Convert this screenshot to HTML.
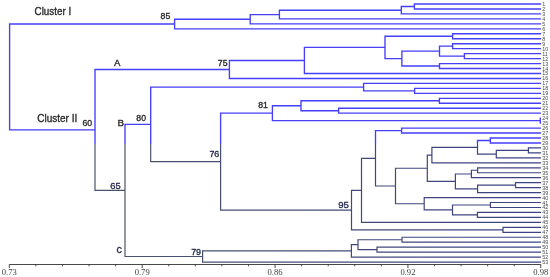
<!DOCTYPE html>
<html><head><meta charset="utf-8"><style>
html,body{margin:0;padding:0;background:#fff;}
body{width:550px;height:277px;overflow:hidden;position:relative;}
svg{position:absolute;left:0;top:0;display:block;}
</style></head><body>
<svg width="550" height="277" viewBox="0 0 550 277">
<defs>
<linearGradient id="gb" gradientUnits="userSpaceOnUse" x1="90" y1="0" x2="540" y2="0">
<stop offset="0" stop-color="#4b5568"/><stop offset="1" stop-color="#3b4184"/>
</linearGradient>
<clipPath id="ct"><rect x="0" y="0" width="550" height="144"/></clipPath>
<clipPath id="cb"><rect x="0" y="144" width="550" height="133"/></clipPath>
<path id="tree" d="M174.6 24.01H9.6V129.94H95M250.2 19.2H174.6V28.82H541M279.4 14.55H250.2V23.85H541M401.3 10.2H279.4V18.89H541M414.4 6.48H401.3V13.93H541M541 4H414.4V8.96H541M229.4 69.45H95V190.44H125M304.4 60.45H229.4V78.45H541M385 47.43H304.4V73.48H541M452.6 36.26H385V58.59H401.9M541 33.78H452.6V38.74H541M439.5 51.15H401.9V66.04H439.5M452.6 46.19H439.5V56.11H464.4M541 43.7H452.6V48.67H541M541 53.63H464.4V58.59H541M541 63.56H439.5V68.52H541M150.7 124.38H125V256.49H202.6M363.6 87.13H150.7V161.63H220.6M541 83.41H363.6V90.85H414.6M541 88.37H414.6V93.33H541M272.4 113.19H220.6V210.07H351.5M301 105.74H272.4V120.63H540.3M439.4 100.78H301V110.7H338.6M541 98.3H439.4V103.26H541M541 108.22H338.6V113.19H541M541 118.15H540.3V123.11H541M361.5 190.33H351.5V229.82H503M375.5 158.28H361.5V222.37H541M401.6 130.56H375.5V186H395.5M541 128.07H401.6V133.04H541M427.3 168.24H395.5V203.76H424.2M431.9 155.06H427.3V181.43H455.4M477.5 147.31H431.9V162.82H541M490.3 140.48H477.5V154.13H496.3M541 138H490.3V142.96H541M528.4 150.41H496.3V157.85H541M541 147.93H528.4V152.89H541M471.4 173.98H455.4V188.87H477.6M477.6 170.26H471.4V177.71H541M541 167.78H477.6V172.74H541M515.5 185.15H477.6V192.59H541M541 182.67H515.5V187.63H541M541 197.56H424.2V209.96H452.5M490.4 205H452.5V214.93H477.4M541 202.52H490.4V207.48H541M541 212.45H477.4V217.41H541M541 227.34H503V232.3H541M351.4 250.91H202.6V262.08H541M358 244.71H351.4V257.11H541M402 239.74H358V249.67H377M541 237.26H402V242.22H541M541 247.19H377V252.15H541" fill="none" stroke-linejoin="miter"/>
</defs>
<use href="#tree" clip-path="url(#ct)" stroke="#453ff8" stroke-width="1.35"/>
<use href="#tree" clip-path="url(#cb)" stroke="url(#gb)" stroke-width="1.2"/>
<g font-family="Liberation Sans, Arial, sans-serif" font-size="5.4" fill="#4a4a4a">
<text x="542.2" y="6">1</text>
<text x="542.2" y="10.96">2</text>
<text x="542.2" y="15.93">3</text>
<text x="542.2" y="20.89">4</text>
<text x="542.2" y="25.85">5</text>
<text x="542.2" y="30.82">6</text>
<text x="542.2" y="35.78">7</text>
<text x="542.2" y="40.74">8</text>
<text x="542.2" y="45.7">9</text>
<text x="542.2" y="50.67">10</text>
<text x="542.2" y="55.63">11</text>
<text x="542.2" y="60.59">12</text>
<text x="542.2" y="65.56">13</text>
<text x="542.2" y="70.52">14</text>
<text x="542.2" y="75.48">15</text>
<text x="542.2" y="80.45">16</text>
<text x="542.2" y="85.41">17</text>
<text x="542.2" y="90.37">18</text>
<text x="542.2" y="95.33">19</text>
<text x="542.2" y="100.3">20</text>
<text x="542.2" y="105.26">21</text>
<text x="542.2" y="110.22">22</text>
<text x="542.2" y="115.19">23</text>
<text x="542.2" y="120.15">24</text>
<text x="542.2" y="125.11">25</text>
<text x="542.2" y="130.07">26</text>
<text x="542.2" y="135.04">27</text>
<text x="542.2" y="140">28</text>
<text x="542.2" y="144.96">29</text>
<text x="542.2" y="149.93">30</text>
<text x="542.2" y="154.89">31</text>
<text x="542.2" y="159.85">32</text>
<text x="542.2" y="164.82">33</text>
<text x="542.2" y="169.78">34</text>
<text x="542.2" y="174.74">35</text>
<text x="542.2" y="179.71">36</text>
<text x="542.2" y="184.67">37</text>
<text x="542.2" y="189.63">38</text>
<text x="542.2" y="194.59">39</text>
<text x="542.2" y="199.56">40</text>
<text x="542.2" y="204.52">41</text>
<text x="542.2" y="209.48">42</text>
<text x="542.2" y="214.45">43</text>
<text x="542.2" y="219.41">44</text>
<text x="542.2" y="224.37">45</text>
<text x="542.2" y="229.34">46</text>
<text x="542.2" y="234.3">47</text>
<text x="542.2" y="239.26">48</text>
<text x="542.2" y="244.22">49</text>
<text x="542.2" y="249.19">50</text>
<text x="542.2" y="254.15">51</text>
<text x="542.2" y="259.11">52</text>
<text x="542.2" y="264.08">53</text>
</g>
<g font-family="Liberation Sans, Arial, sans-serif" stroke-width="0.34">
<text x="34.6" y="14.8" font-size="10.6" fill="#2a2a2a" stroke="#2a2a2a" textLength="36.6" lengthAdjust="spacingAndGlyphs">Cluster I</text>
<text x="160.6" y="18.9" font-size="8.7" fill="#2a2a2a" stroke="#2a2a2a">85</text>
<text x="114.1" y="65.8" font-size="9.6" fill="#2a2a2a" stroke="#2a2a2a">A</text>
<text x="217.8" y="65.6" font-size="8.7" fill="#2a2a2a" stroke="#2a2a2a">75</text>
<text x="37.2" y="121.6" font-size="10.6" fill="#2a2a2a" stroke="#2a2a2a" textLength="40" lengthAdjust="spacingAndGlyphs">Cluster II</text>
<text x="82.4" y="125.6" font-size="8.7" fill="#2a2a2a" stroke="#2a2a2a">60</text>
<text x="117.5" y="125.8" font-size="9.9" fill="#2a2a2a" stroke="#2a2a2a">B</text>
<text x="136.3" y="121" font-size="8.7" fill="#2a2a2a" stroke="#2a2a2a">80</text>
<text x="258.2" y="108" font-size="8.7" fill="#2a2a2a" stroke="#2a2a2a">81</text>
<text x="209.4" y="157.4" font-size="8.9" fill="#262a4c" stroke="#262a4c">76</text>
<text x="110.3" y="188.6" font-size="9.3" fill="#262a4c" stroke="#262a4c">65</text>
<text x="338.2" y="207.5" font-size="9.6" fill="#262a4c" stroke="#262a4c">95</text>
<text x="116.6" y="252.7" font-size="10.6" fill="#262a4c" stroke="#262a4c">c</text>
<text x="191.2" y="254.8" font-size="8.9" fill="#262a4c" stroke="#262a4c">79</text>
</g>
<path d="M9.3 264.5H540.8M9.3 264.5V268M35.88 264.5V266.3M62.45 264.5V266.3M89.02 264.5V266.3M115.6 264.5V266.3M142.18 264.5V268M168.75 264.5V266.3M195.33 264.5V266.3M221.9 264.5V266.3M248.48 264.5V266.3M275.05 264.5V268M301.62 264.5V266.3M328.2 264.5V266.3M354.78 264.5V266.3M381.35 264.5V266.3M407.93 264.5V268M434.5 264.5V266.3M461.07 264.5V266.3M487.65 264.5V266.3M514.23 264.5V266.3M540.8 264.5V268" fill="none" stroke="#333" stroke-width="0.9"/>
<g font-family="Liberation Serif, Times New Roman, serif" font-size="8.6" fill="#3c3c3c" text-anchor="middle">
<text x="9.3" y="275">0.73</text>
<text x="142.18" y="275">0.79</text>
<text x="275.05" y="275">0.86</text>
<text x="407.93" y="275">0.92</text>
<text x="540.8" y="275">0.98</text>
</g>
</svg>
</body></html>
